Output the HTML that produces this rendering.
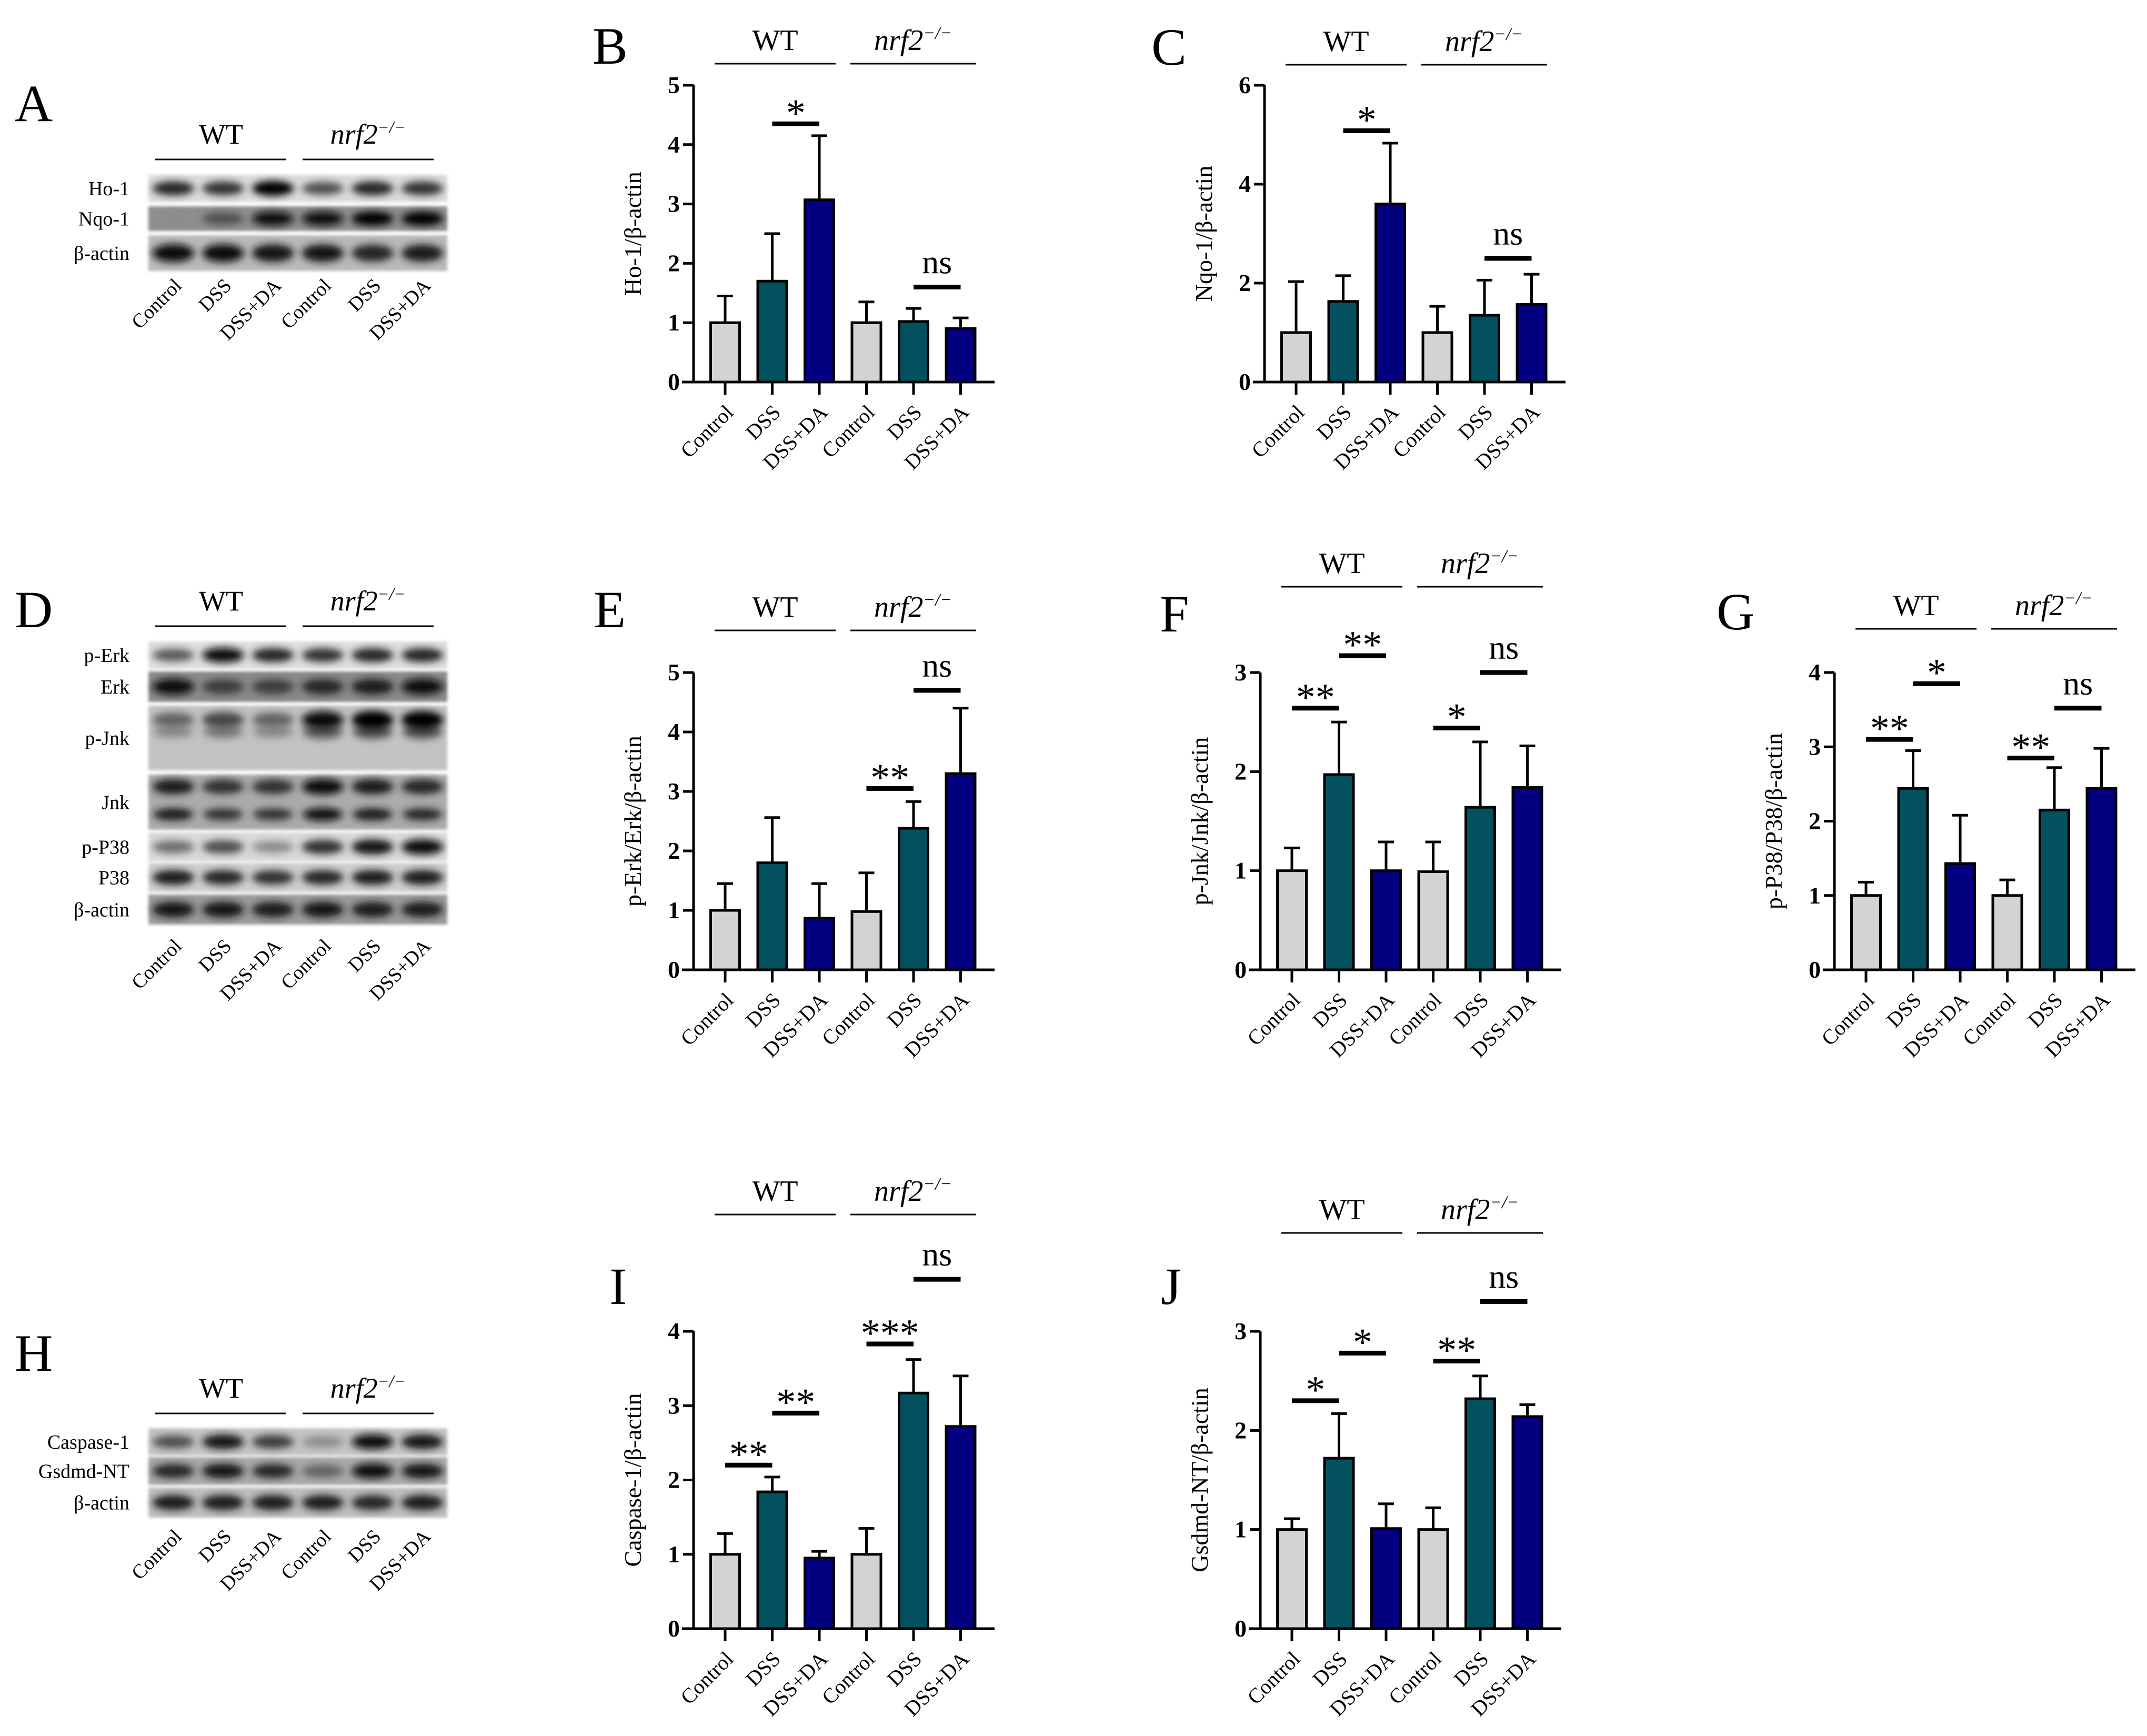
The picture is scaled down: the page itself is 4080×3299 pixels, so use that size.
<!DOCTYPE html>
<html><head><meta charset="utf-8"><title>Figure</title>
<style>
html,body{margin:0;padding:0;background:#fff;}
svg{display:block;font-family:"Liberation Serif","Times New Roman",serif;}
</style></head>
<body>
<svg id="fig" xmlns="http://www.w3.org/2000/svg" width="4080" height="3299" viewBox="0 0 4080 3299">
<defs><filter id="blur" x="-50%" y="-100%" width="200%" height="300%"><feGaussianBlur stdDeviation="7"/></filter>
<filter id="blur2" x="-20%" y="-20%" width="140%" height="140%"><feGaussianBlur stdDeviation="3"/></filter></defs>
<rect x="0" y="0" width="4080" height="3299" fill="#fff"/>
</svg>
<script>
// ---------- data ----------
const categories = ["Control","DSS","DSS+DA","Control","DSS","DSS+DA"];
const groups = ["WT","nrf2"];

const bTicks = [0,1,2,3,4,5];
const bMeans = [1.0,1.7,3.07,1.0,1.02,0.9];
const bErrTops = [1.45,2.5,4.15,1.35,1.24,1.08];
const bSigs = [[1,2,4.35,"*"],[4,5,1.6,"ns"]];

const cTicks = [0,2,4,6];
const cMeans = [1.0,1.63,3.6,1.0,1.35,1.57];
const cErrTops = [2.03,2.15,4.83,1.53,2.06,2.18];
const cSigs = [[1,2,5.08,"*"],[4,5,2.5,"ns"]];

const eTicks = [0,1,2,3,4,5];
const eMeans = [1.0,1.8,0.87,0.98,2.38,3.3];
const eErrTops = [1.45,2.56,1.45,1.63,2.83,4.4];
const eSigs = [[3,4,3.05,"**"],[4,5,4.7,"ns"]];

const fTicks = [0,1,2,3];
const fMeans = [1.0,1.97,1.0,0.99,1.64,1.84];
const fErrTops = [1.23,2.5,1.29,1.29,2.3,2.26];
const fSigs = [[0,1,2.64,"**"],[1,2,3.17,"**"],[3,4,2.44,"*"],[4,5,3.0,"ns"]];

const gTicks = [0,1,2,3,4];
const gMeans = [1.0,2.44,1.43,1.0,2.15,2.44];
const gErrTops = [1.18,2.95,2.08,1.21,2.72,2.98];
const gSigs = [[0,1,3.1,"**"],[1,2,3.85,"*"],[3,4,2.85,"**"],[4,5,3.52,"ns"]];

const iTicks = [0,1,2,3,4];
const iMeans = [1.0,1.84,0.95,1.0,3.17,2.72];
const iErrTops = [1.28,2.04,1.04,1.35,3.62,3.4];
const iSigs = [[0,1,2.2,"**"],[1,2,2.9,"**"],[3,4,3.83,"***"],[4,5,4.7,"ns"]];

const jTicks = [0,1,2,3];
const jMeans = [1.0,1.72,1.01,1.0,2.32,2.14];
const jErrTops = [1.11,2.17,1.26,1.22,2.55,2.26];
const jSigs = [[0,1,2.3,"*"],[1,2,2.78,"*"],[3,4,2.7,"**"],[4,5,3.3,"ns"]];

// blot band intensities (0..1) per lane
const blotA = [
  ["Ho-1",  [0.8,0.75,1.0,0.6,0.8,0.75], "#dcdcdc", 332, 384],
  ["Nqo-1", [0.3,0.6,0.95,0.95,1.0,1.0], "#8f8f8f", 392, 439],
  ["β-actin",[0.95,0.95,0.9,0.9,0.8,0.85], "#b9b9b9", 447, 515]
];
const blotD = [
  ["p-Erk",[0.55,0.95,0.8,0.75,0.8,0.8], "#dedede",1219,1271],
  ["Erk",[0.95,0.7,0.7,0.8,0.85,0.95], "#8a8a8a",1276,1334],
  ["p-Jnk",[0.5,0.65,0.5,0.95,1.0,1.0], "#c2c2c2",1341,1464],
  ["Jnk",[0.85,0.75,0.75,0.95,0.85,0.8], "#ababab",1472,1577],
  ["p-P38",[0.45,0.6,0.3,0.75,0.9,0.95], "#d9d9d9",1582,1637],
  ["P38",[0.85,0.8,0.75,0.8,0.85,0.85], "#cfcfcf",1640,1695],
  ["β-actin",[0.9,0.9,0.85,0.9,0.85,0.85], "#9a9a9a",1700,1757]
];
const blotH = [
  ["Caspase-1",[0.6,0.9,0.7,0.3,0.95,0.9], "#c4c4c4",2714,2766],
  ["Gsdmd-NT",[0.8,0.9,0.8,0.5,0.95,0.9], "#a9a9a9",2769,2822],
  ["β-actin",[0.85,0.85,0.85,0.85,0.8,0.85], "#bdbdbd",2827,2884]
];

// ---------- helpers ----------
const NS = "http://www.w3.org/2000/svg";
const svg = document.getElementById("fig");
function mk(tag, attrs, parent, name){
  const el = document.createElementNS(NS, tag);
  for (const k in attrs) el.setAttribute(k, attrs[k]);
  
  
  (parent || svg).appendChild(el);
  return el;
}
function txt(x, y, s, size, opts, parent, name){
  const a = Object.assign({x:x, y:y, "font-size":size, fill:"#000"}, opts||{});
  const t = mk("text", a, parent, name);
  t.textContent = s;
  return t;
}
function nrfLabel(cx, y, size, parent){
  const t = mk("text", {x:cx, y:y, "font-size":size, "text-anchor":"middle", "font-style":"italic"}, parent, "group-label-nrf2");
  const a = document.createElementNS(NS, "tspan");
  a.textContent = "nrf2";
  t.appendChild(a);
  const b = document.createElementNS(NS, "tspan");
  b.setAttribute("dy", -size*0.38);
  b.setAttribute("font-size", size*0.6);
  b.textContent = "−/−";
  t.appendChild(b);
}
function letter(s, x, y){
  txt(x, y, s, 100, {}, svg, "panel-label-" + s.toLowerCase());
}

const colors = ["#d3d3d3","#03505f","#020080"];

function drawChart(cfg){
  const g = mk("g", {}, svg, "chart-" + cfg.id);
  const ax = cfg.ax, y0 = cfg.y0, top = cfg.top;
  const max = cfg.ticks[cfg.ticks.length-1];
  const ys = v => y0 - v/max*(y0-top);
  const xc = i => ax + 60 + i*89.5;
  mk("line",{x1:ax+40,x2:ax+270,y1:cfg.gy,y2:cfg.gy,stroke:"#000","stroke-width":3},g,"group-line-wt");
  mk("line",{x1:ax+298,x2:ax+537,y1:cfg.gy,y2:cfg.gy,stroke:"#000","stroke-width":3},g,"group-line-nrf2");
  txt(ax+155, cfg.gy-26, groups[0], 56, {"text-anchor":"middle"}, g, "group-label-wt");
  nrfLabel(ax+417, cfg.gy-26, 56, g);
  cfg.means.forEach((m,i)=>{
    const cx = xc(i);
    mk("line",{x1:cx,x2:cx,y1:ys(m),y2:ys(cfg.errs[i]),stroke:"#000","stroke-width":5},g,"error-bar-"+i);
    mk("line",{x1:cx-15,x2:cx+15,y1:ys(cfg.errs[i]),y2:ys(cfg.errs[i]),stroke:"#000","stroke-width":5},g,"error-cap-"+i);
    mk("rect",{x:cx-27.5,y:ys(m),width:55,height:y0-ys(m),fill:colors[i%3],stroke:"#000","stroke-width":5},g,"bar-"+i);
    mk("line",{x1:cx,x2:cx,y1:y0,y2:y0+24,stroke:"#000","stroke-width":5},g,"x-tick-"+i);
    const lx = cx+18, ly = y0+60;
    txt(lx, ly, categories[i], 40, {"text-anchor":"end", transform:"rotate(-45 "+lx+" "+ly+")"}, g, "x-tick-label");
  });
  mk("line",{x1:ax-22,x2:ax+572,y1:y0,y2:y0,stroke:"#000","stroke-width":5},g,"x-axis");
  mk("line",{x1:ax,x2:ax,y1:y0+2.5,y2:top,stroke:"#000","stroke-width":5},g,"y-axis");
  cfg.ticks.forEach(t=>{
    mk("line",{x1:ax-20,x2:ax,y1:ys(t),y2:ys(t),stroke:"#000","stroke-width":5},g,"y-tick");
    txt(ax-26, ys(t)+15, String(t), 46, {"text-anchor":"end","font-weight":"bold"}, g, "y-tick-label");
  });
  const my = (y0+top)/2, tx = ax-100;
  txt(tx, my, cfg.title, 46, {"text-anchor":"middle", transform:"rotate(-90 "+tx+" "+my+")"}, g, "y-axis-title");
  cfg.sigs.forEach(s=>{
    const x1 = xc(s[0]), x2 = xc(s[1]), ly = ys(s[2]);
    mk("line",{x1:x1,x2:x2,y1:ly,y2:ly,stroke:"#000","stroke-width":9},g,"significance-line");
    if (s[3]==="ns") txt((x1+x2)/2, ly-26, "ns", 64, {"text-anchor":"middle"}, g, "significance-label");
    else txt((x1+x2)/2, ly+4, s[3], 74, {"text-anchor":"middle"}, g, "significance-label");
  });
}

function drawBlot(id, rows, lineY, labelEndY){
  const g = mk("g", {}, svg, "western-blot-" + id);
  const x0 = 282, x1 = 850, lw = (x1-x0)/6;
  mk("line",{x1:295,x2:544,y1:lineY,y2:lineY,stroke:"#000","stroke-width":3},g,"group-line-wt");
  mk("line",{x1:575,x2:824,y1:lineY,y2:lineY,stroke:"#000","stroke-width":3},g,"group-line-nrf2");
  txt(420, lineY-30, "WT", 54, {"text-anchor":"middle"}, g, "group-label-wt");
  nrfLabel(699, lineY-30, 54, g);
  rows.forEach(r=>{
    const name = r[0], vals = r[1], bg = r[2], ya = r[3], yb = r[4];
    mk("rect",{x:x0,y:ya,width:x1-x0,height:yb-ya,fill:bg,filter:"url(#blur2)"},g,"blot-strip");
    const h = yb-ya;
    const dbl = (name==="Jnk" || name==="p-Jnk");
    vals.forEach((v,i)=>{
      const cx = x0 + lw*(i+0.5);
      const dark = Math.round(200*(1-v));
      const col = "rgb("+dark+","+dark+","+dark+")";
      if (dbl){
        mk("ellipse",{cx:cx,cy:ya+h*0.22,rx:lw*0.42,ry:h*0.09+v*6,fill:col,filter:"url(#blur)"},g,"blot-band");
        mk("ellipse",{cx:cx,cy:ya+h*(name==="Jnk"?0.72:0.4),rx:lw*0.4,ry:h*0.08+v*4,fill:col,opacity:name==="Jnk"?1:0.6,filter:"url(#blur)"},g,"blot-band");
      } else {
        mk("ellipse",{cx:cx,cy:ya+h*0.5,rx:lw*0.42,ry:h*0.18+v*5,fill:col,filter:"url(#blur)"},g,"blot-band");
      }
    });
    txt(246, (ya+yb)/2+13, name, 38, {"text-anchor":"end"}, g, "blot-row-label");
  });
  categories.forEach((c,i)=>{
    const lx = x0 + lw*(i+0.5) + 18, ly = labelEndY;
    txt(lx, ly, c, 38, {"text-anchor":"end", transform:"rotate(-45 "+lx+" "+ly+")"}, g, "blot-lane-label");
  });
}

// ---------- draw ----------
letter("A", 28, 230); letter("B", 1126, 121); letter("C", 2188, 123);
letter("D", 28, 1192); letter("E", 1128, 1192); letter("F", 2204, 1200); letter("G", 3262, 1196);
letter("H", 28, 2605); letter("I", 1158, 2478); letter("J", 2206, 2478);

drawBlot("a", blotA, 303, 545);
drawBlot("d", blotD, 1190, 1800);
drawBlot("h", blotH, 2686, 2922);

drawChart({id:"ho1", ax:1318, y0:726, top:162, ticks:bTicks, means:bMeans, errs:bErrTops, sigs:bSigs, title:"Ho-1/β-actin", gy:121});
drawChart({id:"nqo1", ax:2403, y0:726, top:162, ticks:cTicks, means:cMeans, errs:cErrTops, sigs:cSigs, title:"Nqo-1/β-actin", gy:123});
drawChart({id:"p-erk", ax:1318, y0:1843, top:1278, ticks:eTicks, means:eMeans, errs:eErrTops, sigs:eSigs, title:"p-Erk/Erk/β-actin", gy:1198});
drawChart({id:"p-jnk", ax:2395, y0:1843, top:1278, ticks:fTicks, means:fMeans, errs:fErrTops, sigs:fSigs, title:"p-Jnk/Jnk/β-actin", gy:1115});
drawChart({id:"p-p38", ax:3486, y0:1843, top:1278, ticks:gTicks, means:gMeans, errs:gErrTops, sigs:gSigs, title:"p-P38/P38/β-actin", gy:1195});
drawChart({id:"caspase1", ax:1318, y0:3095, top:2530, ticks:iTicks, means:iMeans, errs:iErrTops, sigs:iSigs, title:"Caspase-1/β-actin", gy:2308});
drawChart({id:"gsdmd", ax:2395, y0:3095, top:2530, ticks:jTicks, means:jMeans, errs:jErrTops, sigs:jSigs, title:"Gsdmd-NT/β-actin", gy:2343});
</script>
</body></html>
